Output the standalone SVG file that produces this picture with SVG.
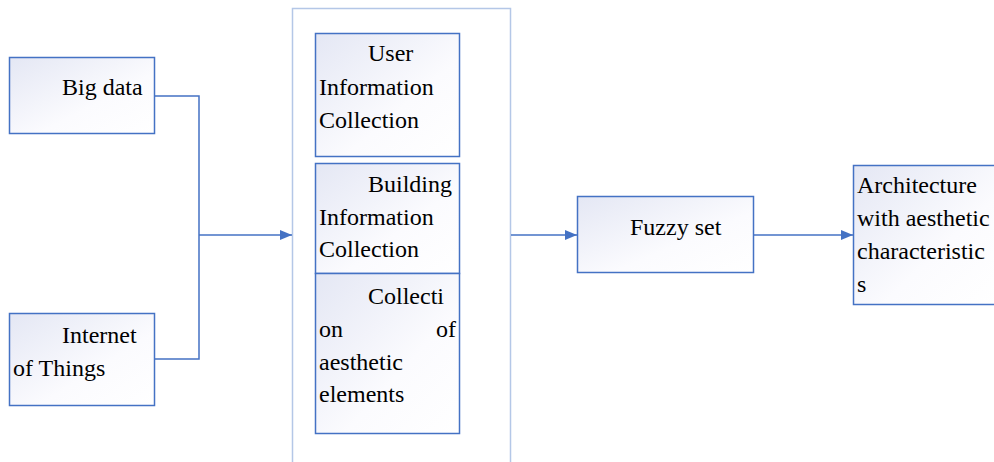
<svg xmlns="http://www.w3.org/2000/svg" width="994" height="462" viewBox="0 0 994 462">
<defs>
<linearGradient id="g" x1="0" y1="0" x2="1" y2="1">
<stop offset="0" stop-color="#e4e7f4"/>
<stop offset="0.6" stop-color="#fbfbfe"/>
<stop offset="1" stop-color="#ffffff"/>
</linearGradient>
<marker id="ah" markerWidth="12" markerHeight="10" refX="12" refY="5" orient="auto" markerUnits="userSpaceOnUse">
<path d="M0,0 L12,5 L0,10 Z" fill="#4472c4"/>
</marker>
</defs>
<rect width="994" height="462" fill="#ffffff"/>
<g id="container">
<rect fill="#ffffff" stroke="#b4c7e7" stroke-width="1.5" x="292.5" y="8.5" width="218" height="455"/>
</g>
<g id="connectors" fill="none" stroke="#4472c4" stroke-width="1.5">
<polyline points="155,96 199,96 199,359 155,359"/>
<line x1="199" y1="235" x2="292" y2="235" marker-end="url(#ah)"/>
<line x1="511" y1="235" x2="577" y2="235" marker-end="url(#ah)"/>
<line x1="754" y1="235" x2="853" y2="235" marker-end="url(#ah)"/>
</g>
<g id="bigdata">
<rect fill="url(#g)" stroke="#4472c4" stroke-width="1.5" x="9.5" y="57.5" width="145" height="76"/>
<text font-family="Times New Roman" font-size="24" x="62" y="95">Big data</text>
</g>
<g id="iot">
<rect fill="url(#g)" stroke="#4472c4" stroke-width="1.5" x="9.5" y="313.5" width="145" height="92"/>
<text font-family="Times New Roman" font-size="24" x="62" y="343">Internet</text>
<text font-family="Times New Roman" font-size="24" x="13" y="376">of Things</text>
</g>
<g id="user">
<rect fill="url(#g)" stroke="#4472c4" stroke-width="1.5" x="315.5" y="33.5" width="144" height="123"/>
<text font-family="Times New Roman" font-size="24" x="368" y="61">User</text>
<text font-family="Times New Roman" font-size="24" x="319" y="95">Information</text>
<text font-family="Times New Roman" font-size="24" x="319" y="128">Collection</text>
</g>
<g id="building">
<rect fill="url(#g)" stroke="#4472c4" stroke-width="1.5" x="315.5" y="163.5" width="144" height="110"/>
<text font-family="Times New Roman" font-size="24" x="368" y="192">Building</text>
<text font-family="Times New Roman" font-size="24" x="319" y="225">Information</text>
<text font-family="Times New Roman" font-size="24" x="319" y="257">Collection</text>
</g>
<g id="aesthetic">
<rect fill="url(#g)" stroke="#4472c4" stroke-width="1.5" x="315.5" y="273.5" width="144" height="160"/>
<text font-family="Times New Roman" font-size="24" x="368" y="304">Collecti</text>
<text font-family="Times New Roman" font-size="24" x="319" y="337">on</text>
<text font-family="Times New Roman" font-size="24" x="456" y="337" text-anchor="end">of</text>
<text font-family="Times New Roman" font-size="24" x="319" y="370">aesthetic</text>
<text font-family="Times New Roman" font-size="24" x="319" y="402">elements</text>
</g>
<g id="fuzzy">
<rect fill="url(#g)" stroke="#4472c4" stroke-width="1.5" x="577.5" y="196.5" width="176" height="76"/>
<text font-family="Times New Roman" font-size="24" x="630" y="235">Fuzzy set</text>
</g>
<g id="architecture">
<rect fill="url(#g)" stroke="#4472c4" stroke-width="1.5" x="853.5" y="165.5" width="145" height="139"/>
<text font-family="Times New Roman" font-size="24" x="857" y="193">Architecture</text>
<text font-family="Times New Roman" font-size="24" x="857" y="226">with aesthetic</text>
<text font-family="Times New Roman" font-size="24" x="857" y="259">characteristic</text>
<text font-family="Times New Roman" font-size="24" x="857" y="292">s</text>
</g>
</svg>
